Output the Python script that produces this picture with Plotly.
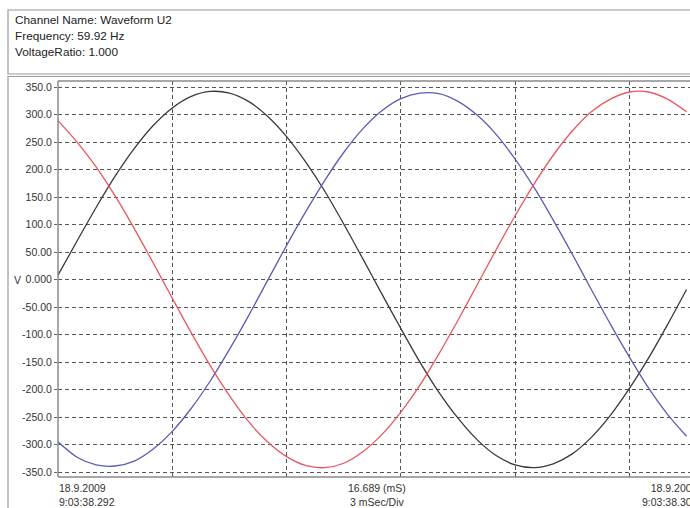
import plotly.graph_objects as go

# ---- data ----
t_ms = [0.0, 0.5, 1.0, 1.5, 2.0, 2.5, 3.0, 3.5, 4.0, 4.5, 5.0, 5.5, 6.0, 6.5, 7.0, 7.5,
        8.0, 8.5, 9.0, 9.5, 10.0, 10.5, 11.0, 11.5, 12.0, 12.5, 13.0, 13.5, 14.0, 14.5,
        15.0, 15.5, 16.0, 16.5]
black_v = [8, 70, 131, 188, 238, 280, 312, 333, 342, 339, 324, 297, 260, 214, 161, 101,
           38, -26, -89, -150, -205, -252, -291, -320, -337, -342, -335, -317, -287, -247,
           -198, -143, -82, -18]
blue_v = [-295, -323, -337, -339, -330, -308, -276, -234, -184, -127, -66, -2, 62, 123, 180, 231,
          274, 307, 329, 339, 338, 324, 299, 264, 219, 167, 108, 46, -18, -81,
          -141, -197, -245, -285]
red_v = [289, 250, 205, 152, 93, 30, -34, -97, -157, -211, -258, -295, -322, -338, -342, -334,
         -313, -282, -241, -192, -135, -74, -10, 54, 116, 174, 226, 270, 305, 328,
         341, 341, 328, 305]

y_ticks = [350, 300, 250, 200, 150, 100, 50, 0, -50, -100, -150, -200, -250, -300, -350]
y_labels = ["350.0", "300.0", "250.0", "200.0", "150.0", "100.0", "50.00", "0.000",
            "-50.00", "-100.0", "-150.0", "-200.0", "-250.0", "-300.0", "-350.0"]
x_grid = [3, 6, 9, 12, 15]

header_lines = ["Channel Name: Waveform U2", "Frequency: 59.92 Hz", "VoltageRatio: 1.000"]
left_label = "18.9.2009<br>9:03:38.292"
mid_label = "16.689 (mS)<br>3 mSec/Div"
right_label = "18.9.2009<br>9:03:38.309"

# ---- layout geometry (pixels) ----
W, H = 690, 508
L, T, B = 58, 81, 477
R = 690


def px(x):
    return (x - L) / (R - L)


def py(y):
    return (B - y) / (B - T)


FONT = "Liberation Sans, Arial, sans-serif"
TXT = "#333333"

fig = go.Figure()
for vals, col in [(black_v, "#3a3a3a"), (blue_v, "#5a5db4"), (red_v, "#e8585f")]:
    fig.add_trace(go.Scatter(x=t_ms, y=vals, mode="lines",
                             line=dict(color=col, width=1.3, shape="spline", smoothing=0.8),
                             showlegend=False, hoverinfo="skip"))

fig.update_layout(
    width=W, height=H,
    margin=dict(l=L, r=W - R, t=T, b=H - B, pad=0),
    paper_bgcolor="white", plot_bgcolor="white",
    font=dict(family=FONT, size=11, color=TXT),
    xaxis=dict(range=[0, 16.59], tickvals=x_grid, showticklabels=False, ticks="",
               showgrid=True, gridcolor="#555555", gridwidth=1, griddash="4px,3px",
               zeroline=False, showline=False, fixedrange=True),
    yaxis=dict(range=[-359, 361], tickvals=y_ticks, ticktext=y_labels,
               ticks="outside", ticklen=3, tickcolor="#666666",
               tickfont=dict(size=10.5, color=TXT, family=FONT),
               showgrid=True, gridcolor="#555555", gridwidth=1, griddash="4px,3px",
               zeroline=False, showline=False, fixedrange=True),
)

shapes = []
frame_col = "#9a9a9a"
# header box
shapes.append(dict(type="rect", xref="paper", yref="paper",
                   x0=px(8), x1=px(720), y0=py(10), y1=py(74),
                   line=dict(color=frame_col, width=1.2)))
# lower frame
shapes.append(dict(type="rect", xref="paper", yref="paper",
                   x0=px(8), x1=px(720), y0=py(76.5), y1=py(530),
                   line=dict(color=frame_col, width=1.2)))
# plot borders
for (x0, y0, x1, y1) in [(L, T, 720, T), (L, B, 720, B), (L, T, L, B)]:
    shapes.append(dict(type="line", xref="paper", yref="paper",
                       x0=px(x0), x1=px(x1), y0=py(y0), y1=py(y1),
                       line=dict(color="#8a8a8a", width=1.5)))
fig.update_layout(shapes=shapes)

ann = []
for i, line in enumerate(header_lines):
    ann.append(dict(text=line, xref="paper", yref="paper", x=px(13), y=py(20 + 16 * i),
                    xanchor="left", yanchor="middle", showarrow=False,
                    font=dict(size=11.8, color="#222222", family=FONT)))
ann.append(dict(text="V", xref="paper", yref="paper", x=px(12), y=py(280),
                xanchor="left", yanchor="middle", showarrow=False,
                font=dict(size=10.5, color=TXT, family=FONT)))
ann.append(dict(text=left_label, xref="paper", yref="paper", x=px(57), y=py(495),
                xanchor="left", yanchor="middle", align="left", showarrow=False,
                font=dict(size=10.5, color=TXT, family=FONT)))
ann.append(dict(text=mid_label, xref="paper", yref="paper", x=px(377), y=py(495),
                xanchor="center", yanchor="middle", align="center", showarrow=False,
                font=dict(size=10.5, color=TXT, family=FONT)))
ann.append(dict(text=right_label, xref="paper", yref="paper", x=px(700), y=py(495),
                xanchor="right", yanchor="middle", align="right", showarrow=False,
                font=dict(size=10.5, color=TXT, family=FONT)))
fig.update_layout(annotations=ann)

fig.write_html("out.html", config={"displayModeBar": False},
               post_script="document.body.style.margin='0';document.body.style.overflow='hidden';")
